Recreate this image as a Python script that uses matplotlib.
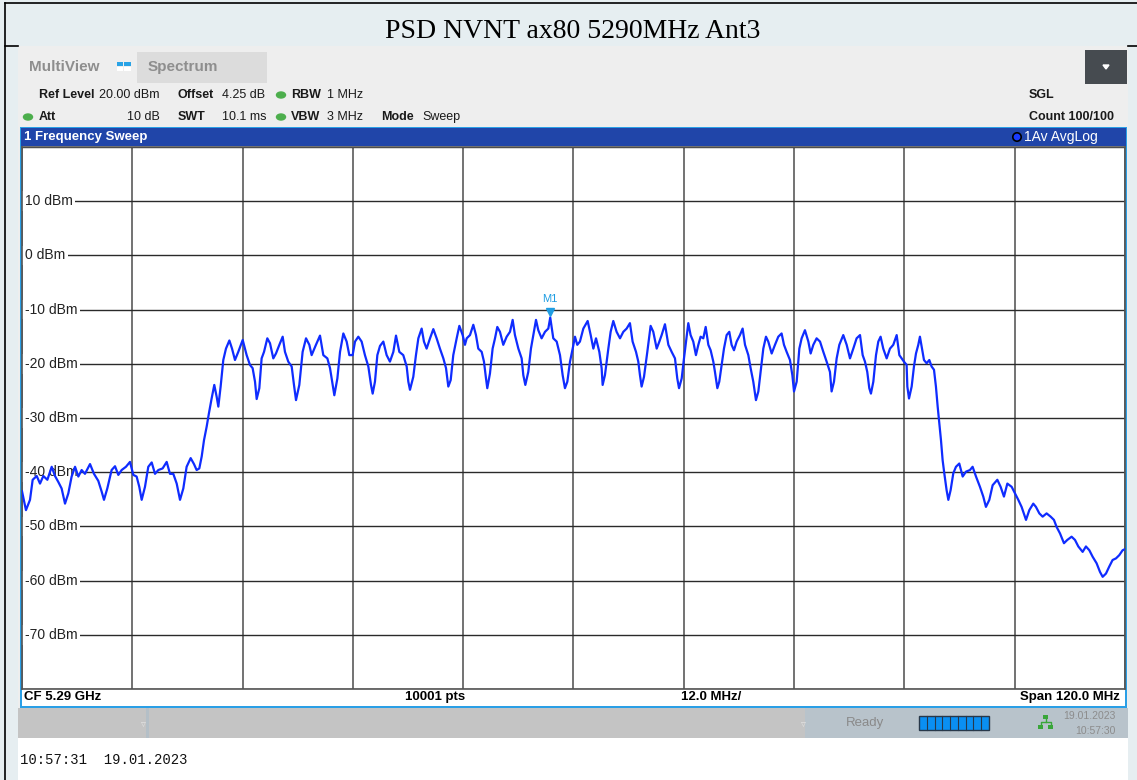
import numpy as np
import matplotlib.pyplot as plt
import matplotlib.transforms as mtransforms
from matplotlib.patches import Rectangle, Circle, Ellipse, Polygon

plt.rcParams['font.family'] = ['Liberation Sans', 'DejaVu Sans']

# analyzer settings
center_mhz = 5290.0
span_mhz = 120.0
ref_level = 20.0
range_db = 100.0
n_points = 10001

# trace: offset from CF (MHz) and level (dBm)
trace_offset_mhz = [
    -60.00, -59.57, -59.13, -58.84, -58.40, -58.04, -57.68, -57.24, -56.77, -56.41,
    -56.05, -55.69, -55.32, -54.96, -54.60, -54.23, -53.87, -53.51, -53.15, -52.60,
    -52.17, -51.70, -51.33, -51.08, -50.72, -50.25, -49.88, -49.52, -49.16, -48.69,
    -48.25, -47.89, -47.53, -47.24, -46.98, -46.62, -46.26, -45.89, -45.53, -45.17,
    -44.70, -44.26, -43.90, -43.54, -43.17, -42.81, -42.45, -42.09, -41.65, -41.29,
    -41.00, -40.71, -40.45, -40.20, -39.91, -39.66, -39.37, -39.08, -38.82, -38.64,
    -38.39, -38.10, -37.81, -37.44, -37.15, -36.83, -36.47, -35.99, -35.56, -35.20,
    -34.91, -34.65, -34.47, -34.18, -33.93, -33.67, -33.31, -33.02, -32.66, -32.37,
    -32.00, -31.64, -31.39, -31.03, -30.66, -30.41, -30.19, -29.83, -29.47, -29.10,
    -28.74, -28.49, -28.02, -27.58, -27.22, -26.78, -26.49, -26.20, -26.02, -25.69,
    -25.40, -25.04, -24.68, -24.39, -24.03, -23.77, -23.41, -23.05, -22.69, -22.32,
    -22.03, -21.85, -21.60, -21.34, -21.05, -20.69, -20.33, -19.97, -19.60, -19.31,
    -18.95, -18.52, -18.15, -17.97, -17.79, -17.43, -17.14, -16.88, -16.52, -16.27,
    -15.98, -15.61, -15.25, -14.89, -14.53, -14.16, -13.87, -13.62, -13.36, -13.08,
    -12.71, -12.42, -12.06, -11.81, -11.62, -11.26, -10.90, -10.61, -10.36, -9.99,
    -9.74, -9.52, -9.38, -9.09, -8.80, -8.54, -8.29, -8.00, -7.64, -7.27,
    -6.91, -6.62, -6.37, -6.00, -5.64, -5.46, -5.24, -4.92, -4.63, -4.37,
    -4.08, -3.83, -3.47, -3.10, -2.74, -2.53, -2.20, -1.83, -1.47, -1.18,
    -0.93, -0.67, -0.38, -0.09, 0.16, 0.41, 0.70, 1.07, 1.54, 1.87,
    2.16, 2.45, 2.81, 3.06, 3.17, 3.42, 3.79, 4.04, 4.33, 4.69,
    5.06, 5.42, 5.78, 6.14, 6.43, 6.80, 7.05, 7.23, 7.41, 7.67,
    8.03, 8.39, 8.68, 9.05, 9.34, 9.59, 9.95, 10.32, 10.68, 11.04,
    11.29, 11.48, 11.77, 12.02, 12.31, 12.49, 12.74, 13.03, 13.32, 13.58,
    13.83, 14.12, 14.38, 14.67, 14.92, 15.21, 15.39, 15.65, 15.86, 16.12,
    16.37, 16.66, 16.95, 17.20, 17.46, 17.75, 18.11, 18.40, 18.66, 19.02,
    19.27, 19.56, 19.85, 20.11, 20.36, 20.65, 20.94, 21.19, 21.56, 21.92,
    22.28, 22.64, 22.90, 23.19, 23.55, 23.81, 23.99, 24.28, 24.57, 24.82,
    25.18, 25.55, 25.80, 26.09, 26.45, 26.82, 27.18, 27.54, 27.90, 28.08,
    28.34, 28.63, 28.92, 29.35, 29.72, 30.08, 30.44, 30.80, 31.17, 31.46,
    31.71, 31.96, 32.18, 32.36, 32.62, 32.91, 33.16, 33.41, 33.70, 34.07,
    34.43, 34.79, 35.16, 35.45, 35.70, 35.95, 36.24, 36.32, 36.50, 36.79,
    37.04, 37.26, 37.51, 37.69, 37.87, 38.13, 38.42, 38.71, 38.96, 39.22,
    39.43, 39.62, 39.80, 39.98, 40.16, 40.34, 40.59, 40.78, 41.03, 41.32,
    41.61, 41.97, 42.34, 42.70, 43.13, 43.42, 43.79, 44.22, 44.58, 44.87,
    45.24, 45.60, 46.11, 46.47, 46.83, 47.20, 47.67, 48.03, 48.39, 48.75,
    49.23, 49.59, 50.02, 50.31, 50.68, 51.04, 51.47, 51.91, 52.27, 52.56,
    52.93, 53.36, 53.72, 54.19, 54.56, 54.92, 55.39, 55.75, 56.12, 56.48,
    56.91, 57.28, 57.57, 57.93, 58.29, 58.65, 59.02, 59.38, 59.74, 60.00,
]
trace_level_dbm = [
    -43.5, -47.0, -45.1, -41.4, -40.7, -42.1, -40.7, -41.4, -39.0, -40.7,
    -41.8, -43.0, -45.8, -43.9, -40.8, -39.0, -40.8, -39.6, -40.3, -38.5,
    -40.3, -41.6, -43.6, -45.1, -43.0, -39.6, -38.9, -40.5, -39.6, -39.0,
    -38.1, -40.5, -40.8, -42.7, -45.1, -42.7, -39.0, -38.2, -40.3, -39.6,
    -39.3, -38.1, -40.3, -40.3, -42.1, -45.1, -43.0, -39.0, -37.4, -38.5,
    -39.6, -39.3, -37.1, -34.1, -31.6, -29.1, -26.4, -23.9, -26.1, -27.9,
    -24.2, -19.3, -17.2, -15.7, -17.2, -19.3, -17.8, -15.6, -18.4, -20.2,
    -20.8, -23.3, -26.5, -24.5, -19.0, -17.8, -15.3, -16.2, -19.0, -18.1,
    -16.5, -15.0, -17.8, -19.6, -20.5, -23.9, -26.7, -23.9, -17.8, -15.3,
    -16.5, -18.4, -16.5, -14.8, -18.4, -19.0, -20.8, -23.9, -25.8, -22.7,
    -17.8, -14.4, -15.9, -18.4, -18.4, -15.9, -15.0, -15.9, -18.4, -20.5,
    -23.9, -25.5, -23.3, -18.4, -16.7, -15.9, -18.4, -19.6, -17.8, -14.8,
    -17.8, -18.4, -20.5, -23.3, -24.8, -22.4, -18.4, -15.3, -13.5, -15.9,
    -17.2, -15.3, -13.6, -15.3, -17.2, -19.0, -20.8, -24.2, -23.0, -18.4,
    -15.3, -13.0, -14.7, -16.5, -15.3, -14.7, -12.8, -14.7, -17.2, -17.8,
    -19.6, -22.7, -24.5, -21.8, -17.2, -15.3, -13.2, -14.1, -16.5, -15.0,
    -14.1, -11.9, -14.7, -17.2, -19.0, -22.1, -23.9, -21.5, -17.2, -14.7,
    -11.9, -13.8, -15.3, -14.1, -13.5, -11.46, -15.3, -15.9, -18.4, -22.1,
    -24.5, -23.3, -19.6, -17.2, -15.0, -16.5, -15.9, -13.5, -12.1, -14.7,
    -17.2, -15.3, -17.8, -20.8, -23.9, -22.1, -17.2, -14.1, -12.1, -14.1,
    -15.3, -14.1, -13.5, -12.5, -15.9, -17.8, -19.6, -22.1, -24.2, -22.4,
    -17.8, -13.0, -14.1, -17.2, -15.9, -14.7, -12.7, -16.5, -17.8, -19.0,
    -22.7, -24.5, -22.7, -19.0, -15.0, -12.5, -14.7, -15.9, -18.4, -16.5,
    -15.0, -15.3, -13.2, -16.5, -17.5, -19.6, -21.5, -24.5, -23.3, -20.2,
    -17.2, -14.7, -14.1, -16.5, -17.5, -15.9, -14.7, -13.5, -16.5, -18.4,
    -20.8, -23.3, -26.7, -25.1, -21.5, -17.2, -15.0, -15.9, -18.1, -16.5,
    -15.0, -14.4, -16.5, -17.8, -19.3, -22.1, -25.1, -23.3, -17.2, -15.3,
    -13.8, -15.9, -18.1, -16.5, -15.3, -15.9, -17.8, -19.6, -21.5, -25.1,
    -23.3, -19.0, -16.5, -14.7, -16.5, -19.0, -17.2, -15.3, -14.7, -18.4,
    -19.6, -21.5, -24.5, -25.5, -23.3, -18.4, -15.9, -15.0, -17.2, -19.0,
    -17.2, -16.5, -14.7, -18.4, -19.0, -19.6, -20.2, -24.2, -26.4, -24.2,
    -20.5, -18.1, -16.5, -15.0, -16.8, -19.3, -19.9, -19.3, -20.5, -21.1,
    -24.2, -27.9, -31.0, -34.1, -37.8, -40.2, -43.3, -45.1, -43.3, -40.2,
    -39.0, -38.4, -40.8, -39.9, -39.6, -39.0, -40.8, -42.7, -44.5, -46.4,
    -45.1, -42.4, -41.4, -42.7, -44.5, -42.1, -42.7, -43.9, -45.1, -46.4,
    -48.8, -47.0, -45.8, -46.4, -47.6, -48.2, -47.6, -48.2, -48.8, -50.1,
    -51.3, -53.1, -52.5, -51.9, -52.5, -53.7, -54.7, -53.7, -54.4, -55.6,
    -56.8, -58.4, -59.3, -58.7, -57.4, -56.2, -55.9, -55.3, -54.4, -54.2,
]

# marker 1
m1_mhz = 5287.468
m1_dbm = -11.46

level_labels = [10, 0, -10, -20, -30, -40, -50, -60, -70]

W, H = 1137, 780
fig = plt.figure(figsize=(W / 100, H / 100), dpi=100)
fig.patch.set_facecolor('#e6eef1')

# pixel-space canvas for the instrument frame
bg = fig.add_axes([0, 0, 1, 1])
bg.set_xlim(0, W)
bg.set_ylim(H, 0)
bg.axis('off')


def rect(x0, y0, x1, y1, color, **kw):
    bg.add_patch(Rectangle((x0, y0), x1 - x0, y1 - y0, facecolor=color,
                           edgecolor=kw.pop('edgecolor', 'none'), **kw))


# outer frame lines
bg.plot([5, W], [3, 3], color='black', lw=1.2)
bg.plot([5, 5], [3, H], color='black', lw=1.2)
bg.plot([5, 18], [46, 46], color='black', lw=1.2)
bg.plot([1128, W], [46, 46], color='black', lw=1.2)

bg.text(573, 31, 'PSD NVNT ax80 5290MHz Ant3', family='Liberation Serif',
        fontsize=20, ha='center', va='center')

# screenshot body
rect(18, 46, 1128, H, '#eeeeee')
rect(137, 52, 267, 83, '#dcdcdc')
rect(1085, 50, 1127, 84, '#464b50')
bg.add_patch(Polygon([[1103, 65], [1109, 65], [1106, 69]], color='white'))

bg.text(29, 67, 'MultiView', color='#8e8e8e', fontsize=11, weight='bold', va='center')
rect(117, 62, 123, 66, '#29a3e6')
rect(124, 62, 131, 66, '#29a3e6')
rect(117, 67, 123, 71, 'white')
rect(124, 67, 131, 71, 'white')
bg.text(148, 67, 'Spectrum', color='#8e8e8e', fontsize=11, weight='bold', va='center')

hdr = dict(fontsize=9, va='center', color='#1a1a1a')
bg.text(39, 95, 'Ref Level', weight='bold', **hdr)
bg.text(99, 95, f'{ref_level:.2f} dBm', **hdr)
bg.text(178, 95, 'Offset', weight='bold', **hdr)
bg.text(222, 95, '4.25 dB', **hdr)
bg.text(291, 95, 'RBW', weight='bold', **hdr)
bg.text(327, 95, '1 MHz', **hdr)
bg.text(39, 117, 'Att', weight='bold', **hdr)
bg.text(160, 117, '10 dB', ha='right', **hdr)
bg.text(178, 117, 'SWT', weight='bold', **hdr)
bg.text(222, 117, '10.1 ms', **hdr)
bg.text(291, 117, 'VBW', weight='bold', **hdr)
bg.text(327, 117, '3 MHz', **hdr)
bg.text(381, 117, 'Mode', weight='bold', **hdr)
bg.text(422, 117, 'Sweep', **hdr)
bg.text(1029, 95, 'SGL', weight='bold', **hdr)
bg.text(1029, 117, 'Count 100/100', weight='bold', **hdr)
for cx, cy in [(28, 117), (281, 95), (281, 117)]:
    bg.add_patch(Ellipse((cx, cy), 9, 6, color='#4cae4c'))

# diagram window
rect(20, 127, 1127, 708, '#2a9fe6')
rect(22, 129, 1125, 706, 'white')
rect(21, 128, 1126, 146, '#2045a9')
bg.text(24, 137, '1 Frequency Sweep', color='white', weight='bold', fontsize=9.5, va='center')
bg.add_patch(Circle((1017, 137), 4.2, facecolor='#1a3cff', edgecolor='black', lw=1.2))
bg.text(1024, 137, '1Av AvgLog', color='white', fontsize=10, va='center')

mk = dict(color='#1f9de2', fontsize=9.5, weight='bold', va='center')
ghz = f'{m1_mhz / 1000:.7f}'
bg.text(993, 158, 'M1[1]', **mk)
bg.text(1121, 158, f'{m1_dbm:.2f} dBm', ha='right', **mk)
bg.text(1121, 180, f'{ghz[:5]} {ghz[5:8]} {ghz[8:]} GHz', ha='right', **mk)

ft = dict(fontsize=9.5, weight='bold', va='center', color='black')
bg.text(24, 697, f'CF {center_mhz / 1000:.2f} GHz', **ft)
bg.text(435, 697, f'{n_points} pts', ha='center', **ft)
bg.text(711, 697, f'{span_mhz / 10:.1f} MHz/', ha='center', **ft)
bg.text(1120, 697, f'Span {span_mhz:.1f} MHz', ha='right', **ft)

# status bar
rect(18, 708, 1128, 738, '#c4c4c4')
rect(805, 708, 1128, 738, '#b8c3cb')
rect(146, 708, 149, 738, '#b4bfc7')
rect(18, 738, 1128, H, 'white')
bg.text(143, 724, '▿', color='#e2e2e2', fontsize=7, ha='center', va='center', family='DejaVu Sans')
bg.text(803, 724, '▿', color='#e2e2e2', fontsize=7, ha='center', va='center', family='DejaVu Sans')
bg.text(865, 723, 'Ready', color='#8a8a8a', fontsize=9.5, ha='center', va='center')
rect(919, 716, 989, 730, '#0a8ff2', edgecolor='#28384a', lw=1)
for sx in np.linspace(919, 989, 10)[1:-1]:
    bg.plot([sx, sx], [716, 730], color='#28384a', lw=0.8)
rect(1043, 715, 1048, 719, '#3aa63a')
rect(1038, 725, 1043, 729, '#3aa63a')
rect(1048, 725, 1053, 729, '#3aa63a')
bg.plot([1045.5, 1045.5, 1040.5, 1040.5], [719, 722, 722, 725], color='#3aa63a', lw=1)
bg.plot([1045.5, 1050.5, 1050.5], [722, 722, 725], color='#3aa63a', lw=1)
bg.text(1116, 716, '19.01.2023', color='#8c8c8c', fontsize=7.5, ha='right', va='center')
bg.text(1116, 731, '10:57:30', color='#8c8c8c', fontsize=7.5, ha='right', va='center')

bg.text(20, 760, '10:57:31  19.01.2023', family='Liberation Mono', fontsize=10,
        color='#111111', va='center')

# spectrum diagram
ax = fig.add_axes([22 / W, 1 - 689 / H, 1103 / W, 542 / H])
ax.set_facecolor('white')
ax.set_xlim(center_mhz - span_mhz / 2, center_mhz + span_mhz / 2)
ax.set_ylim(ref_level - range_db, ref_level)
ax.set_xticks(center_mhz + np.arange(-5, 6) * span_mhz / 10)
ax.set_yticks(np.arange(ref_level - range_db, ref_level + 1, 10))
ax.xaxis.grid(True, color='#727272', lw=1.4)
ax.yaxis.grid(True, color='#2a2a2a', lw=1.0)
ax.set_axisbelow(True)
ax.tick_params(length=0, labelbottom=False, labelleft=False)
for sp in ax.spines.values():
    sp.set_color('#555555')
    sp.set_linewidth(1.2)

lbl_trans = mtransforms.blended_transform_factory(ax.transAxes, ax.transData)
for v in level_labels:
    ax.text(0.0025, v, f'{v} dBm', transform=lbl_trans, fontsize=10, color='#222222',
            va='center', ha='left', zorder=2.2,
            bbox=dict(facecolor='white', edgecolor='none', pad=2))

freqs = center_mhz + np.array(trace_offset_mhz)
ax.plot(freqs, trace_level_dbm, color='#0f2cff', lw=1.6, zorder=5)

tri = ax.transData + mtransforms.ScaledTranslation(0, 4 / 72, fig.dpi_scale_trans)
ax.plot([m1_mhz], [m1_dbm], marker='v', ms=6, color='#1f9de2', transform=tri, zorder=6)
ax.annotate('M1', (m1_mhz, m1_dbm), xytext=(0, 13), textcoords='offset points',
            ha='center', va='center', color='#1f9de2', fontsize=8, zorder=6)

fig.savefig('out.png', dpi=100, facecolor=fig.get_facecolor())
